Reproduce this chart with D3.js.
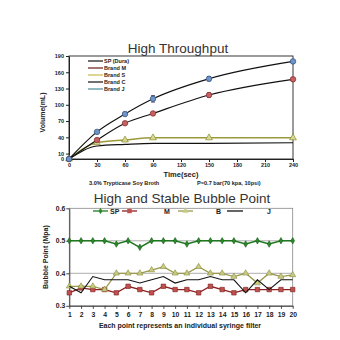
<!DOCTYPE html>
<html><head><meta charset="utf-8">
<script src="https://cdn.jsdelivr.net/npm/d3@7"></script>
<style>
html,body{margin:0;padding:0;background:#fff;}
svg{display:block;font-family:"Liberation Sans",Arial,sans-serif;}
</style></head>
<body><svg id="c" width="340" height="340"></svg>
<script>
// ---------- Top chart data ----------
const times = [0, 30, 60, 90, 150, 240];
const spDura = [0, 50, 83, 111, 148, 180];
const spErr = [0, 2, 3, 6, 4, 2];
const brandM = [0, 35, 66, 84, 118, 147];
const brandMErr = [0, 2, 2, 2, 4, 3];
const brandS = [0, 30, 35, 39, 39, 39];
const brandC = [0, 24, 27, 29, 29, 30];
const brandJ = [null, 32, 53, 63, 70, 81];
const topXTicks = [0, 30, 60, 90, 120, 150, 180, 210, 240];
const topYTicks = [0, 10, 40, 70, 100, 130, 160, 190];
const topLegend = ["SP (Dura)", "Brand M", "Brand S", "Brand C", "Brand J"];

// ---------- Bottom chart data ----------
const filters = d3.range(1, 21);
const bpSP = [0.5,0.5,0.5,0.5,0.49,0.5,0.48,0.5,0.5,0.5,0.49,0.5,0.5,0.5,0.5,0.49,0.5,0.49,0.5,0.5];
const bpM  = [0.34,0.355,0.35,0.35,0.34,0.36,0.35,0.34,0.36,0.35,0.35,0.34,0.36,0.35,0.34,0.35,0.35,0.35,0.35,0.35];
const bpB  = [0.36,0.36,0.36,0.35,0.40,0.40,0.40,0.41,0.42,0.40,0.40,0.42,0.40,0.40,0.39,0.40,0.37,0.40,0.39,0.395];
const bpJ  = [0.36,0.34,0.39,0.38,0.38,0.38,0.37,0.38,0.39,0.37,0.38,0.38,0.39,0.38,0.38,0.34,0.38,0.35,0.38,0.38];
const botYTicks = [0.3, 0.4, 0.5, 0.6];
const botLegend = ["SP", "M", "B", "J"];

const svg = d3.select("#c");

// ================= TOP CHART =================
const xT = d3.scaleLinear().domain([0, 240]).range([69, 293]);
const yT = d3.scaleLinear().domain([0, 190]).range([159, 56]);

svg.append("text").attr("x", 178).attr("y", 53).attr("text-anchor", "middle")
  .attr("font-size", 13.5).attr("fill", "#333").text("High Throughput");

// frame
svg.append("rect").attr("x", xT(0)).attr("y", yT(190)).attr("width", xT(240) - xT(0))
  .attr("height", yT(0) - yT(190)).attr("fill", "none").attr("stroke", "#222").attr("stroke-width", 0.9);

const gxT = svg.append("g").attr("transform", `translate(0,${yT(0)})`)
  .call(d3.axisBottom(xT).tickValues(topXTicks).tickSize(3).tickPadding(1.5).tickSizeOuter(0));
const gyT = svg.append("g").attr("transform", `translate(${xT(0)},0)`)
  .call(d3.axisLeft(yT).tickValues(topYTicks).tickSize(3).tickSizeOuter(0));
[gxT, gyT].forEach(g => {
  g.selectAll("text").attr("font-size", 5.5).attr("font-weight", "bold").attr("fill", "#222")
    .attr("font-family", "Liberation Sans, Arial, sans-serif");
  g.selectAll("line,path").attr("stroke", "#222");
});
gyT.selectAll("text").attr("x", -5);

svg.append("text").attr("transform", `translate(45,${(yT(0) + yT(190)) / 2 + 5}) rotate(-90)`)
  .attr("text-anchor", "middle").attr("font-size", 7).attr("font-weight", "bold").attr("fill", "#222")
  .text("Volume(mL)");
svg.append("text").attr("x", 181).attr("y", 176.5).attr("text-anchor", "middle")
  .attr("font-size", 7.5).attr("font-weight", "bold").attr("fill", "#222").text("Time(sec)");
svg.append("text").attr("x", 89).attr("y", 184.5).attr("font-size", 5.6).attr("font-weight", "bold")
  .attr("fill", "#222").text("3.0% Trypticase Soy Broth");
svg.append("text").attr("x", 197).attr("y", 184.5).attr("font-size", 5.6).attr("font-weight", "bold")
  .attr("fill", "#222").text("P=0.7 bar(70 kpa, 10psi)");

const lineT = d3.line().x((d, i) => xT(times[i])).y(d => yT(d)).curve(d3.curveMonotoneX);
function topSeries(vals, color, w) {
  svg.append("path").datum(vals).attr("d", lineT).attr("fill", "none")
    .attr("stroke", color).attr("stroke-width", w);
}
topSeries(brandC, "#111", 1.2);
topSeries(brandS, "#9a9a3a", 1.5);
topSeries(brandM, "#111", 1.2);
topSeries(spDura, "#111", 1.2);

function errBars(vals, errs, color) {
  vals.forEach((v, i) => {
    if (!errs[i]) return;
    const x = xT(times[i]);
    svg.append("line").attr("x1", x).attr("x2", x).attr("y1", yT(v + errs[i])).attr("y2", yT(v - errs[i]))
      .attr("stroke", color).attr("stroke-width", 0.8);
    [v + errs[i], v - errs[i]].forEach(e => svg.append("line").attr("x1", x - 2).attr("x2", x + 2)
      .attr("y1", yT(e)).attr("y2", yT(e)).attr("stroke", color).attr("stroke-width", 0.8));
  });
}
errBars(spDura, spErr, "#335");
errBars(brandM, brandMErr, "#533");

const sym = (type, size) => d3.symbol().type(type).size(size)();
function topMarks(vals, type, size, fill, stroke) {
  svg.append("g").selectAll("path").data(vals.map((v, i) => [times[i], v]).filter(d => d[1] !== null))
    .join("path").attr("d", sym(type, size))
    .attr("transform", d => `translate(${xT(d[0])},${yT(d[1])})`)
    .attr("fill", fill).attr("stroke", stroke).attr("stroke-width", 0.7);
}
topMarks(brandC, d3.symbolTimes, 12, "#333", "none");
topMarks(brandJ, d3.symbolTimes, 14, "#7a8a90", "none");
topMarks(brandS, d3.symbolTriangle, 20, "#d8d890", "#8a8a30");
topMarks(brandM, d3.symbolCircle, 24, "#c86060", "#7a2a2a");
topMarks(spDura, d3.symbolCircle, 24, "#6f95c8", "#2a4a7a");

// top legend
const legColors = ["#111", "#6a1a1a", "#c8b850", "#111", "#4a8a9a"];
topLegend.forEach((name, i) => {
  const y = 61 + i * 7;
  svg.append("line").attr("x1", 88).attr("x2", 103).attr("y1", y).attr("y2", y)
    .attr("stroke", legColors[i]).attr("stroke-width", 1.2);
  svg.append("text").attr("x", 104).attr("y", y + 2).attr("font-size", 5.5).attr("font-weight", "bold")
    .attr("fill", "#222").text(name);
});

// ================= BOTTOM CHART =================
const xB = d3.scaleLinear().domain([1, 20]).range([69.3, 292.7]);
const yB = d3.scaleLinear().domain([0.3, 0.6]).range([305.8, 208.3]);

svg.append("text").attr("x", 182).attr("y", 203).attr("text-anchor", "middle")
  .attr("font-size", 13.5).attr("fill", "#333").text("High and Stable Bubble Point");

[0.4, 0.5].forEach(v => svg.append("line").attr("x1", xB(1)).attr("x2", xB(20))
  .attr("y1", yB(v)).attr("y2", yB(v)).attr("stroke", "#999").attr("stroke-width", 0.8));
svg.append("rect").attr("x", xB(1)).attr("y", yB(0.6)).attr("width", xB(20) - xB(1))
  .attr("height", yB(0.3) - yB(0.6)).attr("fill", "none").attr("stroke", "#888").attr("stroke-width", 0.8);

const gxB = svg.append("g").attr("transform", `translate(0,${yB(0.3)})`)
  .call(d3.axisBottom(xB).tickValues(filters).tickFormat(d3.format("d")).tickSize(3).tickSizeOuter(0));
const gyB = svg.append("g").attr("transform", `translate(${xB(1)},0)`)
  .call(d3.axisLeft(yB).tickValues(botYTicks).tickFormat(d3.format(".1f")).tickSize(3).tickSizeOuter(0));
[gxB, gyB].forEach(g => {
  g.selectAll("text").attr("font-size", 6.8).attr("font-weight", "bold").attr("fill", "#222")
    .attr("font-family", "Liberation Sans, Arial, sans-serif");
  g.selectAll("line,path").attr("stroke", "#444");
});
gyB.selectAll("text").attr("x", -4);

svg.append("text").attr("transform", `translate(48,${(yB(0.3) + yB(0.6)) / 2}) rotate(-90)`)
  .attr("text-anchor", "middle").attr("font-size", 7).attr("font-weight", "bold").attr("fill", "#222")
  .text("Bubble Point (Mpa)");
svg.append("text").attr("x", 180).attr("y", 328).attr("text-anchor", "middle")
  .attr("font-size", 7).attr("font-weight", "bold").attr("fill", "#222")
  .text("Each point represents an individual syringe filter");

const lineB = d3.line().x((d, i) => xB(filters[i])).y(d => yB(d));
function botSeries(vals, lineColor, type, size, fill, stroke, w) {
  svg.append("path").datum(vals).attr("d", lineB).attr("fill", "none")
    .attr("stroke", lineColor).attr("stroke-width", w);
  svg.append("g").selectAll("path").data(vals).join("path").attr("d", sym(type, size))
    .attr("transform", (d, i) => `translate(${xB(filters[i])},${yB(d)})`)
    .attr("fill", fill).attr("stroke", stroke).attr("stroke-width", 0.6);
}
botSeries(bpM, "#8b2020", d3.symbolSquare, 20, "#c0504d", "#7a2020", 1.3);
botSeries(bpB, "#9a9a50", d3.symbolTriangle, 16, "#c8cc80", "#8a8a40", 1.3);
botSeries(bpJ, "#111", d3.symbolTimes, 20, "#111", "none", 1.1);
botSeries(bpSP, "#1f7a1f", d3.symbolDiamond, 12, "#2a8a2a", "#1a5a1a", 1.5);

// bottom legend
const legB = [
  {x1: 93, x2: 108, tx: 110, line: "#1f7a1f", type: d3.symbolDiamond, fill: "#2a8a2a", size: 12},
  {x1: 122, x2: 137, tx: 164, line: "#8b2020", type: d3.symbolSquare, fill: "#c0504d", size: 20},
  {x1: 178, x2: 193, tx: 216, line: "#9a9a50", type: d3.symbolTriangle, fill: "#c8cc80", size: 16},
  {x1: 227, x2: 243, tx: 267, line: "#111", type: d3.symbolTimes, fill: "#111", size: 20}
];
botLegend.forEach((name, i) => {
  const L = legB[i], y = 211;
  svg.append("line").attr("x1", L.x1).attr("x2", L.x2).attr("y1", y).attr("y2", y)
    .attr("stroke", L.line).attr("stroke-width", 1.3);
  svg.append("path").attr("d", sym(L.type, L.size)).attr("transform", `translate(${(L.x1 + L.x2) / 2},${y})`)
    .attr("fill", L.fill);
  svg.append("text").attr("x", L.tx).attr("y", y + 2.5).attr("font-size", 7).attr("font-weight", "bold")
    .attr("fill", "#222").text(name);
});
</script></body></html>
